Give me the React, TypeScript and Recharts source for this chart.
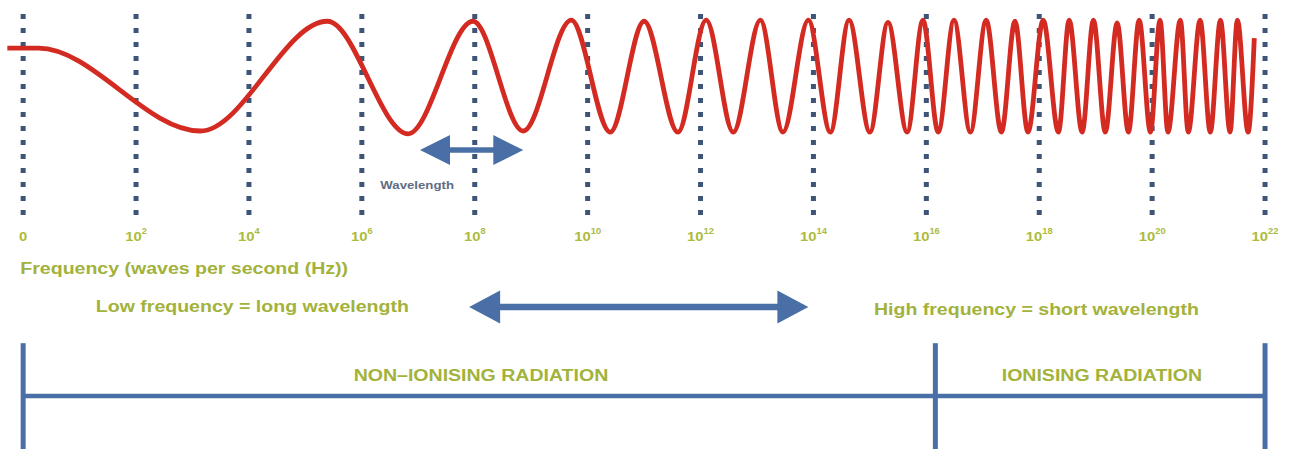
import React from 'react';
import { ComposedChart, Line, XAxis, YAxis, ReferenceLine, Scatter } from 'recharts';

// Wave extrema: position on the frequency axis (exponent units) and amplitude
const waveX = [-0.28, 0.27, 3.14, 5.39, 6.82, 7.97, 8.86, 9.71, 10.4, 11.0, 11.6, 12.1, 12.58, 13.06, 13.46, 13.91, 14.3, 14.63, 15.0, 15.32, 15.66, 15.94, 16.21, 16.49, 16.78, 17.06, 17.33, 17.57, 17.8, 18.07, 18.34, 18.53, 18.76, 18.96, 19.17, 19.38, 19.58, 19.77, 19.97, 20.14, 20.28, 20.5, 20.64, 20.85, 21.03, 21.21, 21.38, 21.51, 21.7, 21.81];
const waveY = [0.5, 0.5, -0.98, 0.98, -1.03, 0.98, -0.98, 1, -1, 0.98, -1, 1, -1, 1, -1, 1, -1, 1, -1, 0.96, -1, 1, -1, 1, -1, 1, -1, 0.98, -1, 1, -1, 1, -1, 1, -1, 0.95, -1, 1, -1, 1, -1, 1, -1, 1, -1, 1, -1, 1, -1, 0.68];

// Tick exponents (10^n)
const tickExponents = [0, 2, 4, 6, 8, 10, 12, 14, 16, 18, 20, 22];
const tickLabelLevel = -2.857;
const dottedTop = 1.11;
const dottedBottom = -2.58;

// Captions
const captionTexts = ['Frequency (waves per second (Hz))', 'Low frequency = long wavelength', 'High frequency = short wavelength', 'NON\u2013IONISING RADIATION', 'IONISING RADIATION'];
const captionX = [-0.05, 4.06, 17.95, 8.11, 19.11];
const captionY = [-3.43, -4.1, -4.16, -5.34, -5.34];
const captionAnchor = ['start', 'middle', 'middle', 'middle', 'middle'];

const wavelengthText = ['Wavelength'];
const wavelengthTextX = [6.98];
const wavelengthTextY = [-1.946];

// Arrows [x1, x2, y]
const wavelengthArrow = [7.03, 8.86, -1.32];
const rangeArrow = [7.9, 13.91, -4.125];

// Radiation bracket
const bracketLevel = -5.714;
const bracketTop = -4.77;
const bracketBottom = -6.66;
const bracketStops = [0, 16.16, 22];

const waveData = waveX.map((x, i) => ({ x, y: waveY[i] }));
const tickData = tickExponents.map((e) => ({ x: e, y: tickLabelLevel, exp: e }));
const captionData = captionTexts.map((t, i) => ({ x: captionX[i], y: captionY[i], text: t, anchor: captionAnchor[i] }));
const wavelengthData = wavelengthText.map((t, i) => ({ x: wavelengthTextX[i], y: wavelengthTextY[i], text: t }));

const FONT = "'Liberation Sans', Arial, sans-serif";
const OLIVE = '#a2b23a';
const TICK_OLIVE = '#adbb3c';
const BLUE = '#4a6fa6';
const DOT_BLUE = '#3e5577';
const RED = '#d32b22';

const TickLabel = (props: any) => {
  const { cx, cy, payload } = props;
  if (cx == null || cy == null) return null;
  return (
    <g transform={`translate(${cx},${cy}) scale(1.1,1)`}>
      <text x={0} y={0} textAnchor="middle" dominantBaseline="central" fontFamily={FONT} fontWeight="bold" fontSize={13.5} fill={TICK_OLIVE}>
        {payload.exp === 0 ? '0' : (
          <>
            10
            <tspan dy={-5} fontSize={8.5}>{payload.exp}</tspan>
          </>
        )}
      </text>
    </g>
  );
};

const Caption = (props: any) => {
  const { cx, cy, payload } = props;
  if (cx == null || cy == null) return null;
  return (
    <g transform={`translate(${cx},${cy}) scale(1.15,1)`}>
      <text x={0} y={0} textAnchor={payload.anchor} dominantBaseline="central" fontFamily={FONT} fontWeight="bold" fontSize={17} fill={OLIVE}>
        {payload.text}
      </text>
    </g>
  );
};

const SmallCaption = (props: any) => {
  const { cx, cy, payload } = props;
  if (cx == null || cy == null) return null;
  return (
    <g transform={`translate(${cx},${cy}) scale(1.15,1)`}>
      <text x={0} y={0} textAnchor="middle" dominantBaseline="central" fontFamily={FONT} fontWeight="bold" fontSize={11.5} fill="#5f6c82">
        {payload.text}
      </text>
    </g>
  );
};

const makeArrow = (headLen: number, headHalf: number, shaft: number) => (p: any) => {
  const { x1, y1, x2 } = p;
  if (x1 == null) return <g />;
  const left = Math.min(x1, x2);
  const right = Math.max(x1, x2);
  const y = y1;
  return (
    <g>
      <line x1={left + headLen - 2} y1={y} x2={right - headLen + 2} y2={y} stroke={BLUE} strokeWidth={shaft} />
      <polygon points={`${left},${y} ${left + headLen},${y - headHalf} ${left + headLen},${y + headHalf}`} fill={BLUE} />
      <polygon points={`${right},${y} ${right - headLen},${y - headHalf} ${right - headLen},${y + headHalf}`} fill={BLUE} />
    </g>
  );
};

const smallArrow = makeArrow(30, 15, 5.5);
const bigArrow = makeArrow(31, 16.5, 6.5);

export default function App() {
  return (
    <div style={{ position: 'absolute', left: 0, top: 0, width: 1291, height: 449, background: '#ffffff' }}>
      <ComposedChart width={1291} height={449} data={waveData} margin={{ top: 0, right: 0, bottom: 0, left: 0 }}>
        <XAxis type="number" dataKey="x" domain={[-0.41, 22.46]} allowDataOverflow hide />
        <YAxis type="number" domain={[-6.66, 1.36]} allowDataOverflow hide />
        {tickExponents.map((e) => (
          <ReferenceLine
            key={`d${e}`}
            segment={[{ x: e, y: dottedTop }, { x: e, y: dottedBottom }]}
            stroke={DOT_BLUE}
            strokeWidth={5}
            strokeDasharray="5 9"
            ifOverflow="visible"
          />
        ))}
        <ReferenceLine
          segment={[{ x: wavelengthArrow[0], y: wavelengthArrow[2] }, { x: wavelengthArrow[1], y: wavelengthArrow[2] }]}
          ifOverflow="visible"
          shape={smallArrow}
        />
        <ReferenceLine
          segment={[{ x: rangeArrow[0], y: rangeArrow[2] }, { x: rangeArrow[1], y: rangeArrow[2] }]}
          ifOverflow="visible"
          shape={bigArrow}
        />
        <ReferenceLine
          segment={[{ x: bracketStops[0], y: bracketLevel }, { x: bracketStops[bracketStops.length - 1], y: bracketLevel }]}
          stroke={BLUE}
          strokeWidth={4.5}
          ifOverflow="visible"
        />
        {bracketStops.map((s) => (
          <ReferenceLine
            key={`b${s}`}
            segment={[{ x: s, y: bracketTop }, { x: s, y: bracketBottom }]}
            stroke={BLUE}
            strokeWidth={5}
            ifOverflow="visible"
          />
        ))}
        <Line
          type="monotone"
          dataKey="y"
          stroke={RED}
          strokeWidth={4.8}
          dot={false}
          activeDot={false}
          isAnimationActive={false}
        />
        <Scatter data={tickData} dataKey="y" shape={TickLabel} isAnimationActive={false} />
        <Scatter data={captionData} dataKey="y" shape={Caption} isAnimationActive={false} />
        <Scatter data={wavelengthData} dataKey="y" shape={SmallCaption} isAnimationActive={false} />
      </ComposedChart>
    </div>
  );
}
